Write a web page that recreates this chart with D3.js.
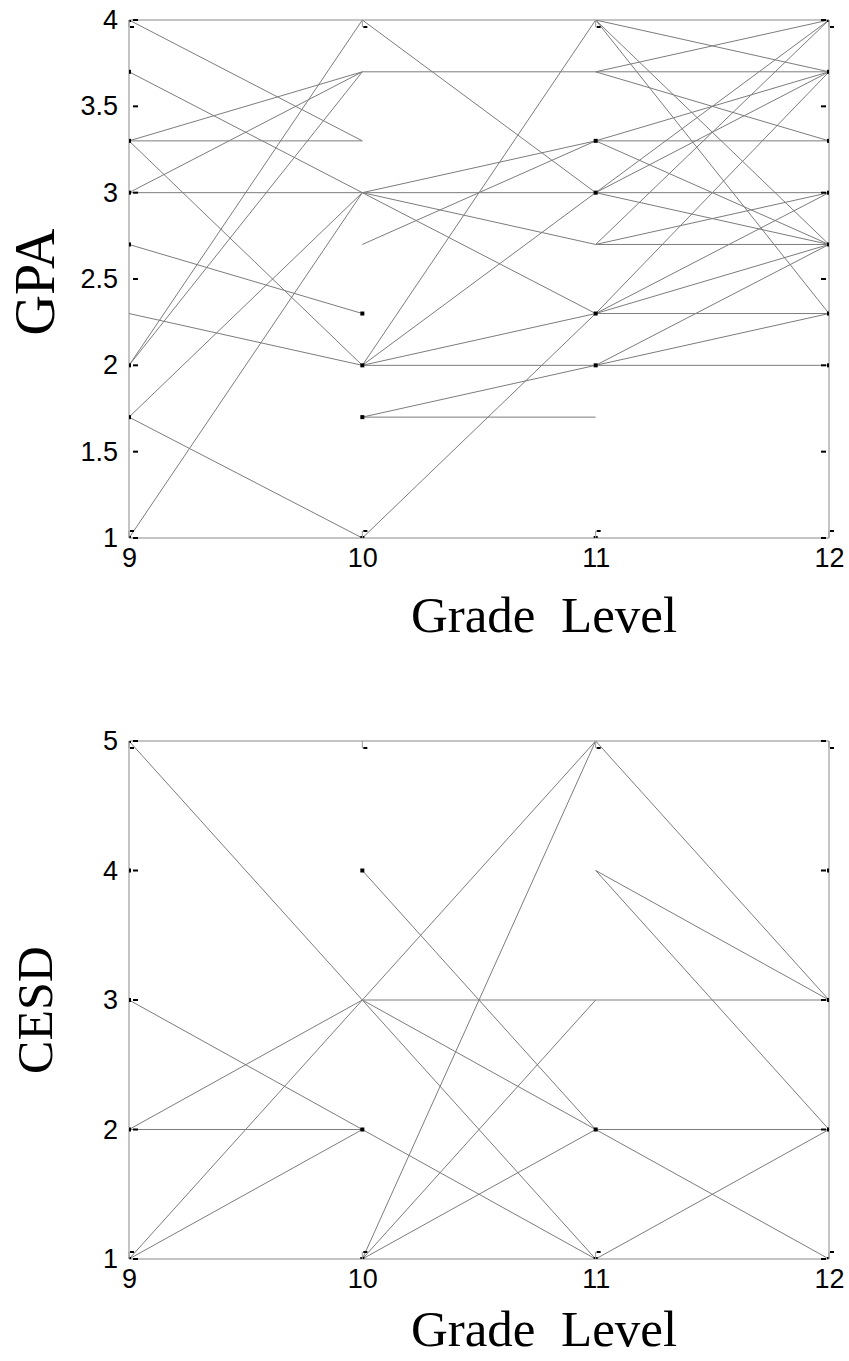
<!DOCTYPE html>
<html>
<head>
<meta charset="utf-8">
<script src="https://cdn.jsdelivr.net/npm/d3@7"></script>
<style>
  body { margin: 0; background: #fff; }
  svg { display: block; }
</style>
</head>
<body>
<svg id="chart" width="849" height="1361"></svg>
<script>
// Grade levels on the x axis
const grades = [9, 10, 11, 12];

// Tick labels
const gpaTicks = [1, 1.5, 2, 2.5, 3, 3.5, 4];
const cesdTicks = [1, 2, 3, 4, 5];

// GPA per student across grades 9..12 (null = not observed)
const gpaTrajectories = [
  [4.0, 3.3, null, null],
  [3.7, 3.0, 3.0, 3.0],
  [3.3, 3.7, 3.7, 3.7],
  [3.3, 3.3, null, null],
  [3.3, 2.0, 4.0, 3.7],
  [3.0, 3.7, null, null],
  [3.0, 3.0, 3.3, 3.3],
  [2.7, 2.3, null, null],
  [2.3, 2.0, 2.0, 2.0],
  [2.0, 4.0, 3.0, 4.0],
  [2.0, 3.7, null, null],
  [1.7, 3.0, 2.7, 2.7],
  [1.7, 1.0, 2.3, 2.3],
  [1.0, 3.0, 2.3, 3.0],
  [null, 2.7, 3.3, 3.7],
  [null, 2.0, 3.0, 3.7],
  [null, 2.0, 2.3, 2.7],
  [null, 1.7, 2.0, 2.3],
  [null, 1.7, 1.7, null],
  [null, null, 4.0, 2.3],
  [null, null, 4.0, 2.7],
  [null, null, 3.7, 4.0],
  [null, null, 3.7, 3.3],
  [null, null, 3.3, 2.7],
  [null, null, 3.0, 2.7],
  [null, null, 2.7, 3.0],
  [null, null, 2.7, 4.0],
  [null, null, 2.3, 3.7],
  [null, null, 2.0, 2.7]
];

// GPA observations drawn with a square marker: [grade, value]
const gpaMarked = [
  [9, 4.0], [9, 3.7], [9, 3.3], [9, 3.0], [9, 2.7], [9, 2.0], [9, 1.7], [9, 1.0],
  [10, 2.3], [10, 2.0], [10, 1.7], [10, 1.0],
  [11, 3.3], [11, 3.0], [11, 2.3], [11, 2.0], [11, 1.0],
  [12, 4.0], [12, 3.7], [12, 3.3], [12, 3.0], [12, 2.7], [12, 2.3], [12, 2.0]
];

// CESD per student across grades 9..12 (null = not observed)
const cesdTrajectories = [
  [5, 3, 3, 3],
  [2, 3, 5, 3],
  [1, 3, 2, 2],
  [null, 3, 1, 2],
  [3, 2, 1, null],
  [2, 2, null, null],
  [1, 2, null, null],
  [null, 4, 2, 1],
  [null, 1, 5, null],
  [null, 1, 3, null],
  [null, 1, 2, null],
  [null, null, 4, 3],
  [null, null, 4, 2]
];

// CESD observations drawn with a square marker: [grade, value]
const cesdMarked = [
  [9, 5], [9, 4], [9, 3], [9, 2], [9, 1],
  [10, 4], [10, 2], [10, 1],
  [11, 2], [11, 1],
  [12, 4], [12, 3], [12, 2], [12, 1]
];

const svg = d3.select("#chart");
const left = 129, right = 829;

function drawPanel(cfg) {
  const g = svg.append("g");
  const x = d3.scaleLinear().domain([9, 12]).range([left, right]);
  const y = d3.scaleLinear().domain(cfg.domain).range([cfg.bottom, cfg.top]);

  const clipId = "clip-" + cfg.name;
  svg.append("clipPath").attr("id", clipId)
    .append("rect")
    .attr("x", left).attr("y", cfg.top)
    .attr("width", right - left).attr("height", cfg.bottom - cfg.top);

  // frame
  g.append("line").attr("x1", left).attr("x2", right).attr("y1", cfg.top).attr("y2", cfg.top)
    .attr("stroke", "#c4c4c4").attr("stroke-width", 2);
  g.append("line").attr("x1", left).attr("x2", right).attr("y1", cfg.bottom).attr("y2", cfg.bottom)
    .attr("stroke", "#c4c4c4").attr("stroke-width", 2);
  g.append("line").attr("x1", left).attr("x2", left).attr("y1", cfg.top).attr("y2", cfg.bottom)
    .attr("stroke", "#c4c4c4").attr("stroke-width", 2);
  g.append("line").attr("x1", right).attr("x2", right).attr("y1", cfg.top).attr("y2", cfg.bottom)
    .attr("stroke", "#8a8a8a").attr("stroke-width", 1);

  // student trajectories
  const line = d3.line()
    .defined(d => d.v != null)
    .x(d => x(d.g))
    .y(d => y(d.v));
  g.append("g").attr("clip-path", `url(#${clipId})`)
    .selectAll("path")
    .data(cfg.trajectories)
    .join("path")
    .attr("d", t => line(t.map((v, i) => ({ g: grades[i], v }))))
    .attr("fill", "none")
    .attr("stroke", "#7c7c7c")
    .attr("stroke-width", 1);

  // markers
  g.append("g").attr("clip-path", `url(#${clipId})`)
    .selectAll("rect")
    .data(cfg.marked)
    .join("rect")
    .attr("x", d => x(d[0]) - 2)
    .attr("y", d => y(d[1]) - 2)
    .attr("width", 4).attr("height", 4)
    .attr("fill", "#000");

  // inner tick marks
  const tg = g.append("g").attr("fill", "#000");
  cfg.ticks.forEach(t => {
    tg.append("rect").attr("x", left + 4).attr("y", y(t) - 1).attr("width", 5).attr("height", 2);
    tg.append("rect").attr("x", right - 8).attr("y", y(t) - 1).attr("width", 5).attr("height", 2);
  });
  grades.forEach(gr => {
    g.append("line").attr("x1", x(gr)).attr("x2", x(gr))
      .attr("y1", cfg.bottom).attr("y2", cfg.bottom - 7).attr("stroke", "#9a9a9a");
    g.append("line").attr("x1", x(gr)).attr("x2", x(gr))
      .attr("y1", cfg.top).attr("y2", cfg.top + 7).attr("stroke", "#9a9a9a");
    tg.append("rect").attr("x", x(gr) + 1).attr("y", cfg.bottom - 8).attr("width", 4).attr("height", 2);
    tg.append("rect").attr("x", x(gr) + 1).attr("y", cfg.top + 6).attr("width", 4).attr("height", 2);
  });

  // tick labels
  const yAxis = d3.axisLeft(y).tickValues(cfg.ticks).tickSize(0).tickPadding(11)
    .tickFormat(d => String(d));
  const ya = g.append("g").attr("transform", `translate(${left},0)`).call(yAxis);
  const xAxis = d3.axisBottom(x).tickValues(grades).tickSize(0).tickPadding(10)
    .tickFormat(d => String(d));
  const xa = g.append("g").attr("transform", `translate(0,${cfg.bottom})`).call(xAxis);
  [ya, xa].forEach(a => {
    a.select(".domain").remove();
    a.selectAll("text").attr("font-family", "'Liberation Sans', Arial, sans-serif")
      .attr("font-size", 27).attr("fill", "#000");
  });

  // axis titles
  g.append("text")
    .attr("transform", `translate(${cfg.yTitleX},${cfg.yTitleY}) rotate(-90)`)
    .attr("text-anchor", "middle")
    .attr("font-family", "'Liberation Serif', 'Times New Roman', serif")
    .attr("font-size", cfg.yTitleSize)
    .text(cfg.yTitle);
  g.append("text")
    .attr("x", 544).attr("y", cfg.xTitleY)
    .attr("text-anchor", "middle")
    .attr("font-family", "'Liberation Serif', 'Times New Roman', serif")
    .attr("font-size", 51)
    .attr("xml:space", "preserve")
    .text("Grade  Level");
}

drawPanel({
  name: "gpa", domain: [1, 4], top: 20, bottom: 538,
  trajectories: gpaTrajectories, marked: gpaMarked, ticks: gpaTicks,
  yTitle: "GPA", yTitleX: 54, yTitleY: 282, yTitleSize: 56, xTitleY: 632
});
drawPanel({
  name: "cesd", domain: [1, 5], top: 741, bottom: 1259,
  trajectories: cesdTrajectories, marked: cesdMarked, ticks: cesdTicks,
  yTitle: "CESD", yTitleX: 52, yTitleY: 1010, yTitleSize: 50, xTitleY: 1346
});
</script>
</body>
</html>
